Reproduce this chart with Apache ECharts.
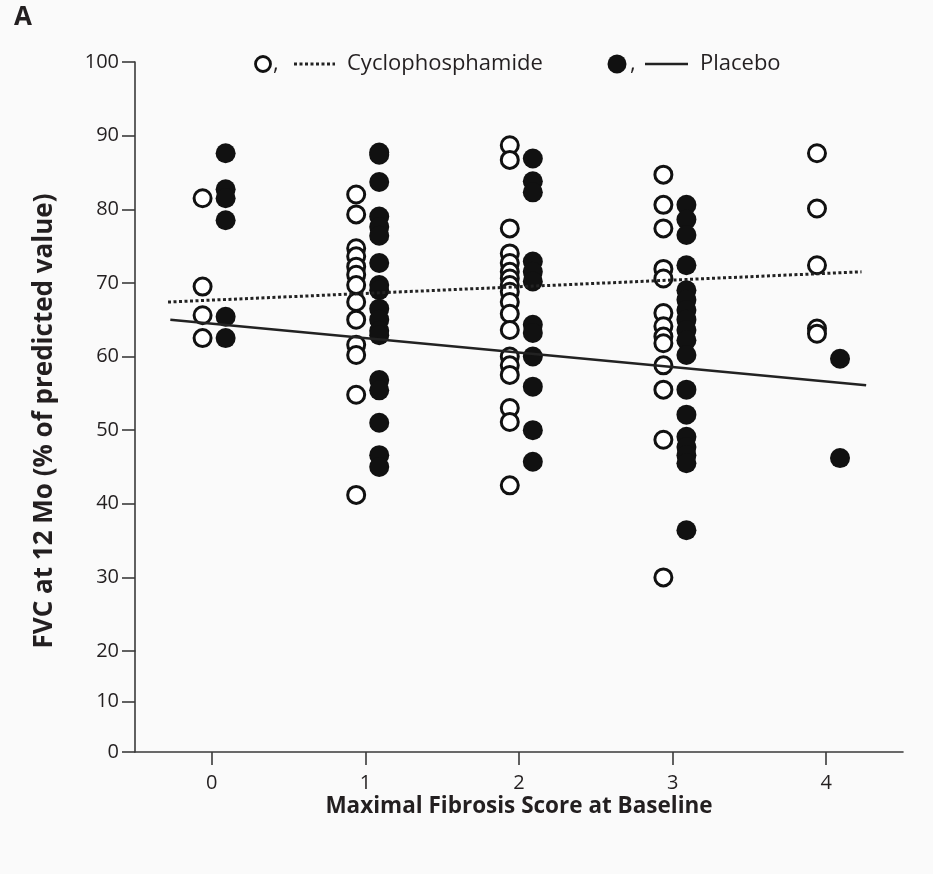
<!DOCTYPE html>
<html>
<head>
<meta charset="utf-8">
<script src="https://cdn.jsdelivr.net/npm/echarts@6/dist/echarts.min.js"></script>
<style>
  html, body { margin: 0; padding: 0; background: #fafafa; }
  #main { width: 933px; height: 874px; }
</style>
</head>
<body>
<div id="main"></div>
<script>
// fibrosis score columns
var scores = [0, 1, 2, 3, 4];

// FVC at 12 mo, cyclophosphamide (open circles), one list per score
var cyc0 = [81.5, 69.5, 65.6, 62.5];
var cyc1 = [82.0, 79.3, 74.7, 73.6, 72.2, 71.1, 69.7, 67.4, 65.0, 61.6, 60.2, 54.8, 41.2];
var cyc2 = [88.7, 86.7, 77.4, 74.0, 72.7, 71.5, 70.6, 69.7, 68.8, 67.4, 65.8, 63.6, 60.0, 58.8, 57.5, 53.0, 51.1, 42.5];
var cyc3 = [84.7, 80.6, 77.4, 71.9, 70.6, 65.9, 64.1, 62.7, 61.8, 58.8, 55.5, 48.7, 30.0];
var cyc4 = [87.6, 80.1, 72.4, 63.8, 63.1];

// placebo (filled circles)
var pla0 = [87.6, 82.7, 81.5, 78.5, 65.4, 62.5];
var pla1 = [87.7, 87.4, 83.7, 79.0, 77.6, 76.4, 72.7, 69.7, 69.0, 66.5, 65.0, 63.5, 62.9, 56.8, 55.4, 51.0, 46.6, 45.0];
var pla2 = [86.9, 83.8, 82.3, 72.9, 71.5, 70.2, 64.3, 63.2, 60.0, 55.9, 50.0, 45.7];
var pla3 = [80.6, 78.6, 76.5, 72.4, 69.0, 67.7, 66.3, 65.0, 63.6, 62.2, 60.2, 55.5, 52.1, 49.1, 47.7, 46.6, 45.5, 36.4];
var pla4 = [59.7, 46.2];

// regression lines (end points)
var cycFitX = [-0.285, 4.23];
var cycFitY = [67.4, 71.5];
var plaFitX = [-0.27, 4.26];
var plaFitY = [65.0, 56.1];

// tick labels
var xTicks = [0, 1, 2, 3, 4];
var yTicksTop = [30, 40, 50, 60, 70, 80, 90, 100];
var yTicksBottom = [0, 10, 20];

var FONT = '"Open Sans", "DejaVu Sans", sans-serif';
var TXT = '#231f20';
var AX = '#3a3a3a';

function buildPoints(lists, shift) {
  var out = [];
  lists.forEach(function (vals, i) {
    vals.forEach(function (v) {
      out.push([scores[i] + shift, v]);
    });
  });
  return out;
}
function buildLine(xs, ys) {
  return xs.map(function (x, i) { return [x, ys[i]]; });
}

var cycPoints = buildPoints([cyc0, cyc1, cyc2, cyc3, cyc4], -0.06);
var plaPoints = buildPoints([pla0, pla1, pla2, pla3, pla4], 0.09);

var chart = echarts.init(document.getElementById('main'));

var axisLineStyle = { show: true, onZero: false, lineStyle: { color: AX, width: 1.6 } };
var tickStyle = { show: true, length: 13, lineStyle: { color: AX, width: 1.6 } };
var labelStyle = { color: TXT, fontSize: 20, fontFamily: FONT };

var option = {
  backgroundColor: '#fafafa',
  animation: false,
  grid: [
    { left: 135, right: 30, top: 62, bottom: 223 },
    { left: 135, right: 30, top: 651, bottom: 122 }
  ],
  xAxis: [
    { gridIndex: 0, type: 'value', min: -0.5, max: 4.5, show: false },
    {
      gridIndex: 1, type: 'value', min: -0.5, max: 4.5,
      axisLine: axisLineStyle,
      axisTick: Object.assign({ customValues: xTicks }, tickStyle),
      axisLabel: Object.assign({ customValues: xTicks, margin: 21 }, labelStyle),
      splitLine: { show: false },
      name: 'Maximal Fibrosis Score at Baseline',
      nameLocation: 'middle',
      nameGap: 43,
      nameTextStyle: { color: TXT, fontSize: 22.5, fontWeight: 'bold', fontFamily: FONT }
    }
  ],
  yAxis: [
    {
      gridIndex: 0, type: 'value', min: 20, max: 100,
      axisLine: axisLineStyle,
      axisTick: Object.assign({ customValues: yTicksTop }, tickStyle),
      axisLabel: Object.assign({ customValues: yTicksTop, margin: 16 }, labelStyle),
      splitLine: { show: false }
    },
    {
      gridIndex: 1, type: 'value', min: 0, max: 20, interval: 10,
      axisLine: axisLineStyle,
      axisTick: Object.assign({ customValues: yTicksBottom }, tickStyle),
      axisLabel: Object.assign({ customValues: yTicksBottom, margin: 16 }, labelStyle),
      splitLine: { show: false }
    }
  ],
  series: [
    {
      name: 'Cyclophosphamide',
      type: 'scatter',
      xAxisIndex: 0, yAxisIndex: 0,
      symbolSize: 17,
      z: 2,
      itemStyle: { color: '#fff', borderColor: '#111', borderWidth: 3, opacity: 1 },
      data: cycPoints
    },
    {
      name: 'Placebo',
      type: 'scatter',
      xAxisIndex: 0, yAxisIndex: 0,
      symbolSize: 20,
      z: 2,
      itemStyle: { color: '#111', borderColor: '#111', borderWidth: 0, opacity: 1 },
      data: plaPoints
    },
    {
      name: 'Cyclophosphamide fit',
      type: 'line',
      xAxisIndex: 0, yAxisIndex: 0,
      showSymbol: false,
      z: 3,
      lineStyle: { color: '#222', width: 3, type: [3, 2.5], cap: 'butt' },
      data: buildLine(cycFitX, cycFitY)
    },
    {
      name: 'Placebo fit',
      type: 'line',
      xAxisIndex: 0, yAxisIndex: 0,
      showSymbol: false,
      z: 3,
      lineStyle: { color: '#222', width: 2.6 },
      data: buildLine(plaFitX, plaFitY)
    }
  ],
  graphic: [
    // panel letter
    { type: 'text', left: 14, top: 5, style: { text: 'A', fill: TXT, font: 'bold 26px ' + FONT } },
    // y axis title
    {
      type: 'text', x: 45, y: 421, rotation: Math.PI / 2,
      style: { text: 'FVC at 12 Mo (% of predicted value)', fill: TXT, font: 'bold 26px ' + FONT, align: 'center', verticalAlign: 'middle' }
    },
    // legend
    { type: 'circle', shape: { cx: 263, cy: 64, r: 7.5 }, style: { fill: '#fff', stroke: '#111', lineWidth: 2.8 } },
    { type: 'text', x: 273, y: 64, style: { text: ',', fill: TXT, font: '22px ' + FONT, verticalAlign: 'middle' } },
    { type: 'line', shape: { x1: 294, y1: 64, x2: 335, y2: 64 }, style: { stroke: '#222', lineWidth: 3, lineDash: [3, 2.5] } },
    { type: 'text', x: 347, y: 64, style: { text: 'Cyclophosphamide', fill: TXT, font: '22px ' + FONT, verticalAlign: 'middle' } },
    { type: 'circle', shape: { cx: 617, cy: 64, r: 9.5 }, style: { fill: '#111' } },
    { type: 'text', x: 630, y: 64, style: { text: ',', fill: TXT, font: '22px ' + FONT, verticalAlign: 'middle' } },
    { type: 'line', shape: { x1: 645, y1: 64, x2: 688, y2: 64 }, style: { stroke: '#222', lineWidth: 2.6 } },
    { type: 'text', x: 700, y: 64, style: { text: 'Placebo', fill: TXT, font: '22px ' + FONT, verticalAlign: 'middle' } }
  ]
};

chart.setOption(option);
</script>
</body>
</html>
